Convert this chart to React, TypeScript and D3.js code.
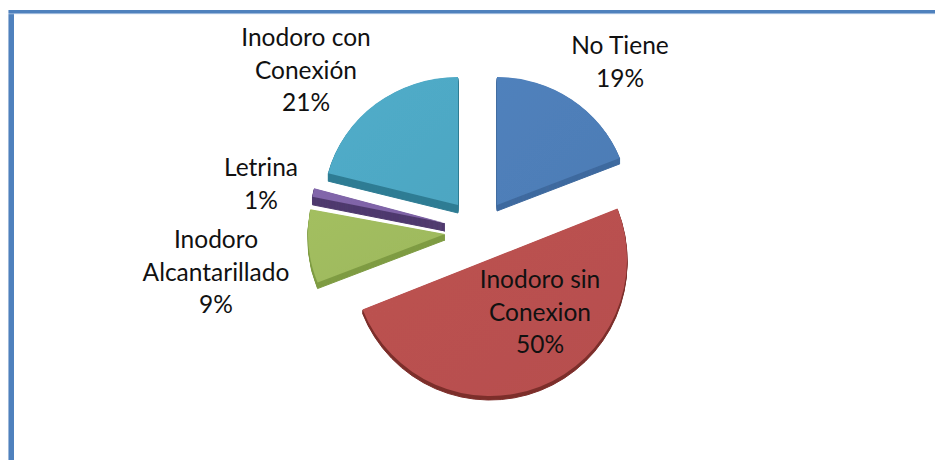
import React from "react";
import * as d3 from "d3";

const categories = ["No Tiene", "Inodoro sin Conexion", "Inodoro Alcantarillado", "Letrina", "Inodoro con Conexión"];
const values = [19, 50, 9, 1, 21];
const colors = ["#4f7fb9", "#ba5150", "#a0bc5e", "#8064a8", "#4faac6"];
const sideColors = ["#3f6a9f", "#7d2f2c", "#7f9c44", "#4f3a6e", "#2f7d94"];
const apexes: [number, number][] = [[497, 205], [490, 259], [445, 234], [445, 223], [458, 205]];
const radii: [number, number][] = [[132, 128], [137, 137], [137, 132], [135, 140], [134, 128]];
const depths = [6, 4, 6, 8, 8];
const labelLines = [["No Tiene", "19%"], ["Inodoro sin", "Conexion", "50%"], ["Inodoro", "Alcantarillado", "9%"], ["Letrina", "1%"], ["Inodoro con", "Conexión", "21%"]];
const labelAnchors: [number, number][] = [[620, 54], [540, 288], [216, 248], [261, 176], [306, 46]];

export default function App() {
  const arcs = d3.pie<number>().sort(null)(values);
  const drawOrder = [4, 3, 0, 2, 1];
  const unit = d3.arc<d3.PieArcDatum<number>>().innerRadius(0).outerRadius(1);
  return (
    <svg width={935} height={460} style={{ position: "absolute", left: 0, top: 0, background: "#fff" }}>
      <defs>
        <filter id="soft"><feGaussianBlur stdDeviation="0.5" /></filter>
        {colors.map((c, i) => (
          <linearGradient key={i} id={`g${i}`} x1="0" x2="1" y1="0" y2="1">
            <stop offset="0" stopColor={d3.color(c)!.brighter(0.05).formatHex()} />
            <stop offset="1" stopColor={d3.color(c)!.darker(0.06).formatHex()} />
          </linearGradient>
        ))}
      </defs>
      <rect x={8} y={10} width={1.5} height={450} fill="#9db8da" />
      <rect x={9} y={10} width={5} height={450} fill="#4f81bd" />
      <rect x={8} y={13.2} width={927} height={1} fill="#c4d5ea" />
      <rect x={9} y={10} width={926} height={3.4} fill="#4f81bd" />
      <g filter="url(#soft)">
        {drawOrder.map((i) => {
          const a = arcs[i];
          const [cx, cy] = apexes[i];
          const [rx, ry] = radii[i];
          const d = unit(a)!;
          return (
            <g key={i}>
              {d3.range(depths[i], 0, -1).map((k) => (
                <path key={k} d={d} fill={sideColors[i]} stroke={sideColors[i]} strokeWidth={1} vectorEffect="non-scaling-stroke"
                  transform={`translate(${cx},${cy + k}) scale(${rx},${ry})`} />
              ))}
              <path d={d} fill={`url(#g${i})`} transform={`translate(${cx},${cy}) scale(${rx},${ry})`} />
            </g>
          );
        })}
      </g>
      {labelLines.map((lines, i) => (
        <text key={i} textAnchor="middle" fontFamily="Lato, Carlito, sans-serif" fontSize={24.5} fill="#111"
          x={labelAnchors[i][0]} y={labelAnchors[i][1]}>
          {lines.map((l, j) => (
            <tspan key={j} x={labelAnchors[i][0]} dy={j === 0 ? 0 : 32.7}>{l}</tspan>
          ))}
        </text>
      ))}
    </svg>
  );
}
